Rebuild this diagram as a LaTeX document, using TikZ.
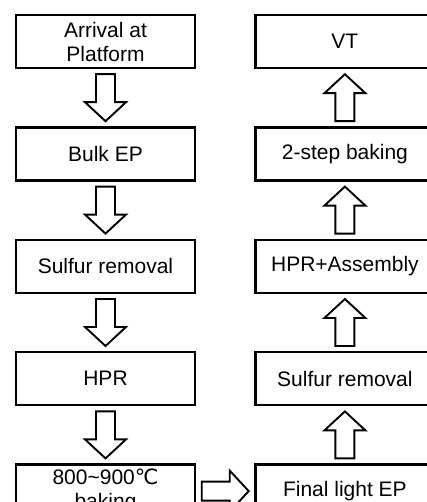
\documentclass[tikz,border=0pt]{standalone}
\usepackage{fontspec}
\setmainfont{Liberation Sans}
\newfontfamily\symfont{DejaVu Sans}
\usetikzlibrary{positioning,calc}

% hollow block arrow, centred between two anchors
\newcommand{\blockarrow}[3]{%
\draw[fat, shift={($(#1)!0.5!(#2)$)}, rotate=#3] (-23.5,-9.5) -- (4.5,-9.5) -- (4.5,-20.5) -- (23.5,0) -- (4.5,20.5) -- (4.5,9.5) -- (-23.5,9.5) -- cycle;}

\begin{document}
\begin{tikzpicture}[x=1pt, y=1pt, node distance=57pt, every node/.style={font=\fontsize{21}{24}\selectfont}]
\tikzstyle{box}=[draw, line width=2.4pt, align=center, inner sep=1pt, minimum width=179pt, minimum height=53pt]
\tikzstyle{fat}=[draw, line width=1.9pt, line join=miter, fill=white]
\clip (0,0) rectangle (427,-502);
\useasboundingbox (0,0) rectangle (427,-502);
\node[box] (a1) at (105.5,-41.5) {Arrival at\\Platform};
\node[box, below=of a1] (a2) {Bulk EP};
\node[box, below=of a2] (a3) {Sulfur removal};
\node[box, below=of a3] (a4) {HPR};
\node[box, below=of a4] (a5) {800\char`~900{\symfont ℃}\\baking};
\node[box, right=58pt of a5] (b1) {Final light EP};
\node[box, above=of b1] (b2) {Sulfur removal};
\node[box, above=of b2] (b3) {HPR+Assembly};
\node[box, above=of b3] (b4) {2-step baking};
\node[box, above=of b4] (b5) {VT};
\blockarrow{a1.south}{a2.north}{-90} \blockarrow{a2.south}{a3.north}{-90}
\blockarrow{a3.south}{a4.north}{-90} \blockarrow{a4.south}{a5.north}{-90}
\blockarrow{a5.east}{b1.west}{0}
\blockarrow{b1.north}{b2.south}{90} \blockarrow{b2.north}{b3.south}{90}
\blockarrow{b3.north}{b4.south}{90} \blockarrow{b4.north}{b5.south}{90}
\end{tikzpicture}
\end{document}
